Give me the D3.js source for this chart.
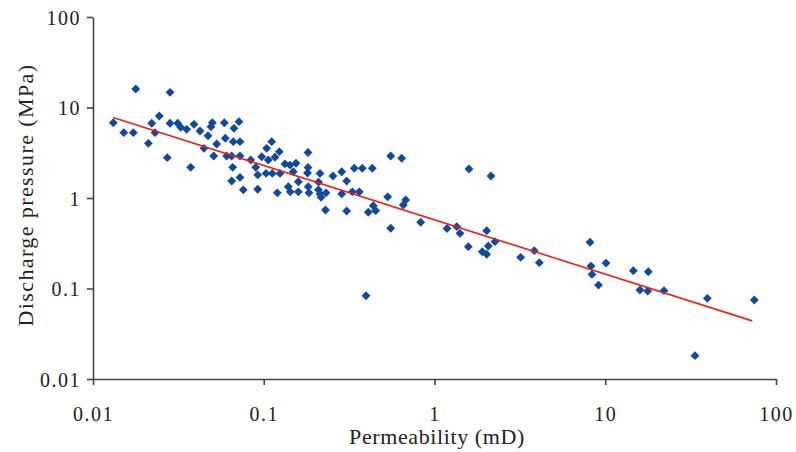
<!DOCTYPE html>
<html>
<head>
<meta charset="utf-8">
<script src="https://cdn.jsdelivr.net/npm/d3@7"></script>
<style>
  body { margin: 0; background: #fff; }
  text { font-family: "Liberation Serif", "DejaVu Serif", serif; fill: #222; }
</style>
</head>
<body>
<svg id="chart" width="796" height="452"></svg>
<script>
// Data
let permeability = [0.01315, 0.01514, 0.01722, 0.01779, 0.02109, 0.02208, 0.02308, 0.02445, 0.02723, 0.02825,
  0.02825, 0.03133, 0.03264, 0.03538, 0.03734, 0.03903, 0.04232, 0.04467, 0.04716, 0.04911,
  0.04998, 0.05093, 0.05302, 0.05875, 0.05954, 0.06067, 0.06490, 0.06578, 0.06490, 0.06631,
  0.06694, 0.07161, 0.07259, 0.07259, 0.07259, 0.07588, 0.08387, 0.08973, 0.09218, 0.09218,
  0.09727, 0.1040, 0.1113, 0.1031, 0.1063, 0.1122, 0.1164, 0.1201, 0.1234, 0.1245,
  0.1331, 0.1424, 0.1489, 0.1545, 0.1594, 0.1393, 0.1430, 0.1594, 0.1816, 0.1816,
  0.1804, 0.1823, 0.1841, 0.2135, 0.2092, 0.2092, 0.2135, 0.2164, 0.2315, 0.2299,
  0.2544, 0.2861, 0.3060, 0.2861, 0.3060, 0.3301, 0.3391, 0.3627, 0.3777, 0.4321,
  0.3970, 0.4095, 0.4381, 0.4524, 0.5319, 0.5541, 0.5541, 0.6424, 0.6565, 0.6780,
  0.830, 1.184, 1.349, 1.410, 1.578, 1.592, 1.905, 2.022, 2.066, 2.022,
  2.142, 2.261, 3.197, 3.841, 4.110, 8.141, 8.250, 8.363, 9.131, 10.10,
  14.60, 15.97, 17.73, 17.87, 22.08, 33.54, 39.60, 74.64];
let pressure = [6.79, 5.27, 5.27, 16.0, 4.02, 6.69, 5.27, 8.06, 2.79, 14.7,
  6.69, 6.69, 6.04, 5.74, 2.18, 6.52, 5.50, 3.54, 4.88, 6.13,
  6.79, 2.91, 3.95, 6.79, 4.57, 2.91, 2.91, 2.18, 1.54, 4.19,
  5.89, 6.97, 4.19, 2.91, 1.69, 1.23, 2.63, 2.18, 1.80, 1.25,
  2.86, 3.54, 4.19, 1.87, 2.63, 1.87, 2.82, 1.14, 3.25, 1.87,
  2.38, 2.31, 1.95, 2.42, 1.51, 1.33, 1.17, 1.17, 3.18, 2.17,
  1.89, 1.33, 1.14, 1.87, 1.50, 1.23, 1.11, 1.02, 1.14, 0.737,
  1.75, 1.95, 1.54, 1.11, 0.719, 1.17, 2.13, 1.17, 2.13, 2.13,
  0.0832, 0.695, 0.822, 0.724, 1.03, 2.91, 0.463, 2.75, 0.837, 0.950,
  0.539, 0.460, 0.482, 0.407, 0.290, 2.09, 0.255, 0.239, 0.295, 0.435,
  1.75, 0.329, 0.221, 0.262, 0.193, 0.324, 0.177, 0.143, 0.109, 0.191,
  0.157, 0.0962, 0.0938, 0.153, 0.0946, 0.0181, 0.0779, 0.0746];

// Power-law trend line y = a * x^b
let trendCoef = 0.574;
let trendExp = -0.6;
let trendRange = [0.0131, 72.6];

let tickValues = [0.01, 0.1, 1, 10, 100];
let tickLabels = ["0.01", "0.1", "1", "10", "100"];

// Layout
let width = 796, height = 452;
let margin = { top: 17, right: 20, bottom: 73, left: 93 };

let svg = d3.select("#chart");

let x = d3.scaleLog().domain([0.01, 100]).range([margin.left, width - margin.right]);
let y = d3.scaleLog().domain([0.01, 100]).range([height - margin.bottom, margin.top]);

let fmt = d => tickLabels[tickValues.indexOf(d)];

// Axes
let xAxis = svg.append("g")
    .attr("transform", "translate(0," + (height - margin.bottom) + ")")
    .call(d3.axisBottom(x).tickValues(tickValues).tickFormat(fmt).tickSize(6).tickSizeOuter(0).tickPadding(22));
let yAxis = svg.append("g")
    .attr("transform", "translate(" + margin.left + ",0)")
    .call(d3.axisLeft(y).tickValues(tickValues).tickFormat(fmt).tickSize(6).tickSizeOuter(0).tickPadding(6));

[xAxis, yAxis].forEach(a => {
    a.select(".domain").attr("stroke", "#444").attr("stroke-width", 1.6);
    a.selectAll(".tick line").attr("stroke", "#444").attr("stroke-width", 1.6);
    a.selectAll(".tick text")
        .attr("font-family", "Liberation Serif, serif")
        .attr("font-size", 20)
        .attr("letter-spacing", "1.5px")
        .attr("fill", "#222");
});
yAxis.selectAll(".tick text").attr("dy", "0.35em");

// Axis titles
svg.append("text")
    .attr("x", 437)
    .attr("y", 444)
    .attr("text-anchor", "middle")
    .attr("font-size", 22)
    .attr("letter-spacing", "0.6px")
    .text("Permeability (mD)");

svg.append("text")
    .attr("transform", "translate(33,195) rotate(-90)")
    .attr("text-anchor", "middle")
    .attr("font-size", 22)
    .attr("letter-spacing", "1.4px")
    .text("Discharge pressure (MPa)");

// Points
let data = permeability.map((p, i) => ({ k: p, p: pressure[i] }));
let diamond = d3.symbol().type(d3.symbolDiamond2).size(50);

svg.append("g").selectAll("path")
    .data(data)
    .enter().append("path")
    .attr("d", diamond)
    .attr("transform", d => "translate(" + x(d.k) + "," + y(d.p) + ")")
    .attr("fill", "#11499b");

// Trend line
let trend = trendRange.map(k => [x(k), y(trendCoef * Math.pow(k, trendExp))]);
svg.append("path")
    .attr("d", d3.line()(trend))
    .attr("stroke", "#e5241b")
    .attr("stroke-width", 1.6)
    .attr("fill", "none");
</script>
</body>
</html>
